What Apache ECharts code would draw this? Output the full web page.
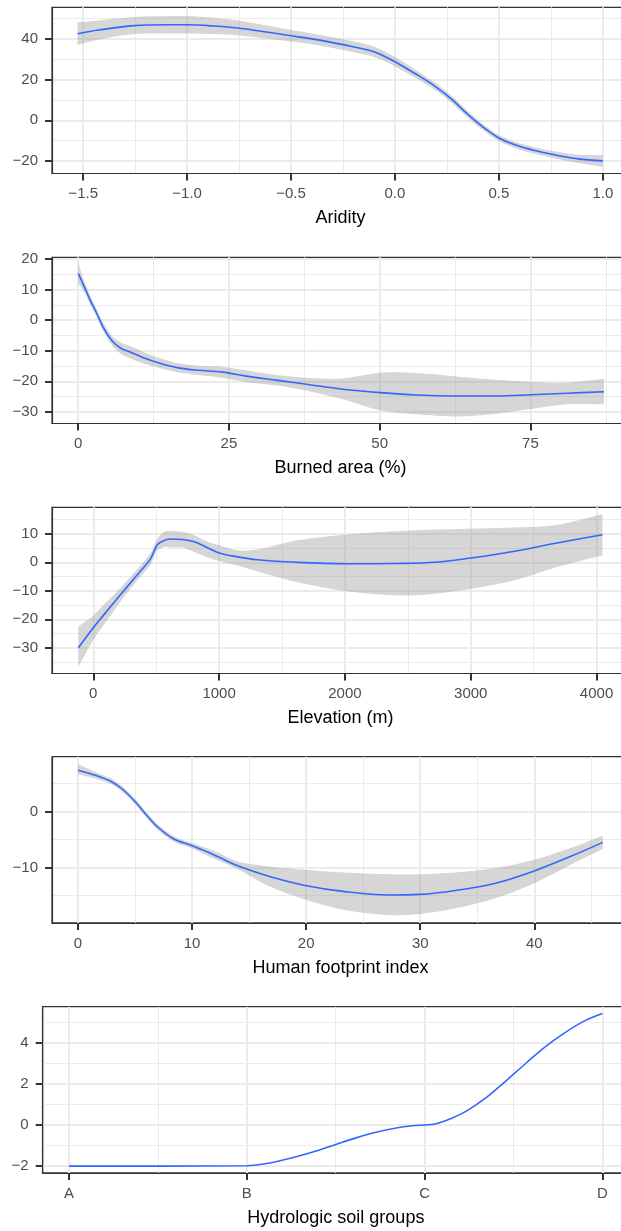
<!DOCTYPE html>
<html>
<head>
<meta charset="utf-8">
<title>Partial effects</title>
<script src="https://cdn.jsdelivr.net/npm/echarts@6/dist/echarts.min.js"></script>
<style>
  html, body { margin: 0; padding: 0; background: #fff; }
  #chart { width: 621px; height: 1231px; }
</style>
</head>
<body>
<div id="chart"></div>
<script>
// ---- data ----
// aridity
var aridityX     = [-1.527, -1.426, -1.254, -1.1, -1.0, -0.873, -0.739, -0.5, -0.377, -0.243, -0.129, -0.071, 0.0, 0.1, 0.195, 0.271, 0.348, 0.424, 0.5, 0.577, 0.672, 0.767, 0.882, 1.0];
var aridityFit   = [42.6, 44.4, 46.6, 47.0, 47.0, 46.4, 45.2, 41.6, 39.7, 37.1, 34.6, 32.5, 28.8, 22.8, 16.6, 10.5, 3.1, -3.4, -8.7, -12.1, -14.9, -17.0, -19.0, -20.0];
var aridityUpper = [48.2, 49.1, 50.8, 51.3, 51.3, 50.4, 48.8, 44.4, 42.3, 39.7, 37.2, 35.0, 31.1, 24.8, 18.4, 12.2, 4.7, -1.9, -7.2, -10.6, -13.3, -15.3, -17.0, -17.1];
var aridityLower = [37.0, 39.7, 42.4, 42.7, 42.7, 42.4, 41.6, 38.8, 37.1, 34.5, 32.0, 30.0, 26.5, 20.8, 14.8, 8.8, 1.5, -4.9, -10.2, -13.6, -16.5, -18.7, -21.0, -22.9];

// burned area (%)
var burnX     = [0, 0.9, 2.0, 3.1, 4.2, 5.6, 7.0, 8.8, 10.7, 13.4, 16.6, 19.9, 23.9, 27.8, 33.1, 38.4, 43.6, 50.1, 56.1, 62.7, 69.3, 75.2, 81.1, 87.2];
var burnFit   = [15.3, 11.4, 6.5, 2.1, -2.5, -6.7, -9.1, -10.6, -12.2, -14.0, -15.6, -16.4, -17.0, -18.3, -19.7, -21.1, -22.5, -23.7, -24.5, -24.8, -24.8, -24.4, -23.9, -23.4];
var burnUpper = [19.0, 13.3, 8.0, 3.4, -1.1, -5.2, -7.3, -8.6, -10.3, -12.4, -14.1, -14.9, -15.2, -16.4, -18.0, -18.9, -19.1, -17.2, -17.3, -18.4, -19.5, -20.2, -20.5, -19.2];
var burnLower = [12.0, 9.5, 5.0, 0.8, -3.9, -8.2, -10.9, -12.6, -14.1, -15.6, -17.1, -17.9, -18.8, -20.2, -21.4, -23.3, -25.7, -29.5, -30.8, -31.5, -30.6, -29.0, -27.5, -27.5];

// elevation (m)
var elevX     = [-119, -16, 79, 204, 330, 456, 509, 566, 613, 708, 802, 896, 1000, 1148, 1305, 1619, 2000, 2406, 2720, 3000, 3349, 3664, 4047];
var elevFit   = [-30.0, -23.9, -18.7, -12.0, -5.4, 1.3, 6.2, 7.7, 8.2, 8.0, 7.2, 5.4, 3.3, 1.9, 0.9, 0.0, -0.5, -0.4, 0.0, 1.5, 3.9, 6.6, 9.7];
var elevUpper = [-22.5, -19.4, -15.1, -9.5, -3.4, 3.3, 8.3, 10.7, 11.0, 10.7, 9.5, 7.5, 6.0, 4.2, 4.5, 7.7, 9.7, 10.9, 11.5, 11.8, 12.2, 13.0, 16.9];
var elevLower = [-36.6, -28.4, -22.2, -14.5, -7.4, -0.7, 4.2, 5.4, 5.2, 5.2, 3.6, 1.9, 0.5, -1.1, -3.2, -6.9, -10.1, -11.6, -11.0, -9.3, -6.3, -1.9, 2.5];

// human footprint index
var hfpX     = [0, 1.5, 2.9, 3.9, 5.0, 6.0, 7.0, 8.4, 10.0, 11.9, 14.0, 16.8, 19.9, 23.4, 27.2, 30.0, 33.1, 36.6, 40.0, 43.2, 46.0];
var hfpFit   = [7.4, 6.5, 5.4, 4.0, 1.8, -0.6, -2.8, -4.9, -6.1, -7.7, -9.7, -11.6, -13.2, -14.3, -14.9, -14.8, -14.1, -12.8, -10.6, -8.0, -5.5];
var hfpUpper = [8.5, 7.1, 5.9, 4.5, 2.3, -0.1, -2.3, -4.4, -5.6, -7.0, -8.9, -9.8, -10.4, -10.9, -11.2, -11.2, -10.9, -10.1, -8.6, -6.5, -4.3];
var hfpLower = [6.7, 5.9, 4.9, 3.5, 1.3, -1.1, -3.3, -5.4, -6.6, -8.4, -10.3, -13.4, -15.7, -17.6, -18.5, -18.3, -17.3, -15.5, -12.8, -9.5, -6.7];

// hydrologic soil groups (x = position along A..D)
var soilGroups = ['A', 'B', 'C', 'D'];
var soilX   = [0, 0.5, 1.0, 1.12, 1.26, 1.39, 1.5, 1.61, 1.72, 1.84, 1.93, 2.0, 2.06, 2.15, 2.24, 2.35, 2.46, 2.57, 2.68, 2.79, 2.9, 3.0];
var soilFit = [-2.0, -2.0, -1.98, -1.86, -1.58, -1.26, -0.95, -0.64, -0.37, -0.15, -0.04, 0.0, 0.05, 0.32, 0.7, 1.35, 2.16, 3.0, 3.81, 4.49, 5.06, 5.42];

// axis titles and breaks
var axisTitles = ['Aridity', 'Burned area (%)', 'Elevation (m)', 'Human footprint index', 'Hydrologic soil groups'];
var xBreaks = [[-1.5, -1.0, -0.5, 0, 0.5, 1.0], [0, 25, 50, 75], [0, 1000, 2000, 3000, 4000], [0, 10, 20, 30, 40], [0, 1, 2, 3]];
var xMinorBreaks = [[-1.25, -0.75, -0.25, 0.25, 0.75], [12.5, 37.5, 62.5, 87.5], [500, 1500, 2500, 3500], [5, 15, 25, 35, 45], [0.5, 1.5, 2.5]];
var yBreaks = [[-20, 0, 20, 40], [-30, -20, -10, 0, 10, 20], [-30, -20, -10, 0, 10], [-10, 0], [-2, 0, 2, 4]];
var yMinorBreaks = [[-10, 10, 30, 50], [-25, -15, -5, 5, 15], [-35, -25, -15, -5, 5, 15], [-15, -5, 5], [-1, 1, 3, 5]];

// ---- layout (pixels / axis limits) ----
var layout = [
  { left: 52,   top: 7.3,    width: 577,   xMin: -1.65, xMax: 1.126, yMin: -26.2, yMax: 55.6 },
  { left: 52,   top: 257.3,  width: 577,   xMin: -4.35, xMax: 91.35, yMin: -33.8, yMax: 20.56 },
  { left: 52,   top: 507.3,  width: 577,   xMin: -328,  xMax: 4258,  yMin: -39.0, yMax: 19.3 },
  { left: 52,   top: 756.7,  width: 577,   xMin: -2.28, xMax: 48.3,  yMin: -19.9, yMax: 9.82 },
  { left: 42.7, top: 1006.7, width: 586.3, xMin: -0.148, xMax: 3.15, yMin: -2.33, yMax: 5.75 }
];
var panelHeight = 166.2;

var FONT = '"Liberation Sans", Arial, sans-serif';
var BORDER = '#333333';
var GRID_COL = '#EBEBEB';

function minus(s) { return String(s).replace('-', '\u2212'); }

var xFormatters = [
  function (v) { return minus(v.toFixed(1)); },
  function (v) { return minus(v); },
  function (v) { return minus(v); },
  function (v) { return minus(v); },
  function (v) { return soilGroups[Math.round(v)]; }
];

function pairs(xs, ys) {
  return xs.map(function (x, k) { return [x, ys[k]]; });
}

// confidence ribbon drawn as one polygon through the axis scales
// (end vertices doubled so the smoothing keeps the ends square)
function ribbon(i, xs, lo, hi) {
  var rows = xs.map(function (x, k) { return [x, lo[k], hi[k]]; });
  return {
    type: 'custom',
    xAxisIndex: 2 * i,
    yAxisIndex: 2 * i,
    clip: true,
    z: 2,
    silent: true,
    encode: { x: 0, y: [1, 2] },
    data: rows,
    renderItem: function (params, api) {
      if (params.dataIndex !== 0) return null;
      var n = rows.length;
      var pts = [api.coord([rows[0][0], rows[0][2]])];
      for (var k = 0; k < n; k++) pts.push(api.coord([rows[k][0], rows[k][2]]));
      pts.push(api.coord([rows[n - 1][0], rows[n - 1][2]]));
      pts.push(api.coord([rows[n - 1][0], rows[n - 1][1]]));
      for (k = n - 1; k >= 0; k--) pts.push(api.coord([rows[k][0], rows[k][1]]));
      pts.push(api.coord([rows[0][0], rows[0][1]]));
      return {
        type: 'polygon',
        shape: { points: pts, smooth: 0.3 },
        style: { fill: 'rgba(153,153,153,0.4)' }
      };
    }
  };
}

function fitLine(i, xs, ys) {
  return {
    type: 'line',
    xAxisIndex: 2 * i,
    yAxisIndex: 2 * i,
    data: pairs(xs, ys),
    smooth: 0.35,
    symbol: 'none',
    clip: true,
    z: 3,
    lineStyle: { color: '#3366FF', width: 1.6 }
  };
}

var grids = [], xAxes = [], yAxes = [];
layout.forEach(function (p, i) {
  grids.push({
    left: p.left, top: p.top, width: p.width, height: panelHeight,
    outerBoundsMode: 'none', containLabel: false,
    show: true, borderColor: BORDER, borderWidth: 1.2, backgroundColor: 'transparent'
  });
  xAxes.push({
    gridIndex: i, type: 'value', min: p.xMin, max: p.xMax, position: 'bottom',
    name: axisTitles[i], nameLocation: 'middle', nameGap: 36,
    nameTextStyle: { color: '#000', fontSize: 18, fontFamily: FONT },
    axisLine: { show: true, onZero: false, lineStyle: { color: BORDER, width: 1.2 } },
    axisTick: { show: true, length: 7, customValues: xBreaks[i], lineStyle: { color: BORDER, width: 2 } },
    axisLabel: { customValues: xBreaks[i], formatter: xFormatters[i], color: '#4D4D4D', fontSize: 15, margin: 13, fontFamily: FONT },
    splitLine: { show: true, lineStyle: { color: GRID_COL, width: 2 } }
  });
  // minor grid lines only
  xAxes.push({
    gridIndex: i, type: 'value', min: p.xMin, max: p.xMax, position: 'top',
    axisLine: { show: false }, axisTick: { show: false, customValues: xMinorBreaks[i] },
    axisLabel: { show: false },
    splitLine: { show: true, lineStyle: { color: GRID_COL, width: 1 } }
  });
  yAxes.push({
    gridIndex: i, type: 'value', min: p.yMin, max: p.yMax, position: 'left',
    axisLine: { show: true, onZero: false, lineStyle: { color: BORDER, width: 1.2 } },
    axisTick: { show: true, length: 7, customValues: yBreaks[i], lineStyle: { color: BORDER, width: 2 } },
    axisLabel: { customValues: yBreaks[i], formatter: minus, color: '#4D4D4D', fontSize: 15, margin: 14, fontFamily: FONT },
    splitLine: { show: true, lineStyle: { color: GRID_COL, width: 2 } }
  });
  yAxes.push({
    gridIndex: i, type: 'value', min: p.yMin, max: p.yMax, position: 'right',
    axisLine: { show: false }, axisTick: { show: false, customValues: yMinorBreaks[i] },
    axisLabel: { show: false },
    splitLine: { show: true, lineStyle: { color: GRID_COL, width: 1 } }
  });
});

var series = [
  ribbon(0, aridityX, aridityLower, aridityUpper), fitLine(0, aridityX, aridityFit),
  ribbon(1, burnX, burnLower, burnUpper),          fitLine(1, burnX, burnFit),
  ribbon(2, elevX, elevLower, elevUpper),          fitLine(2, elevX, elevFit),
  ribbon(3, hfpX, hfpLower, hfpUpper),             fitLine(3, hfpX, hfpFit),
  fitLine(4, soilX, soilFit)
];

var myChart = echarts.init(document.getElementById('chart'), null, { renderer: 'canvas' });
myChart.setOption({
  animation: false,
  backgroundColor: '#ffffff',
  grid: grids,
  xAxis: xAxes,
  yAxis: yAxes,
  series: series
});
</script>
</body>
</html>
